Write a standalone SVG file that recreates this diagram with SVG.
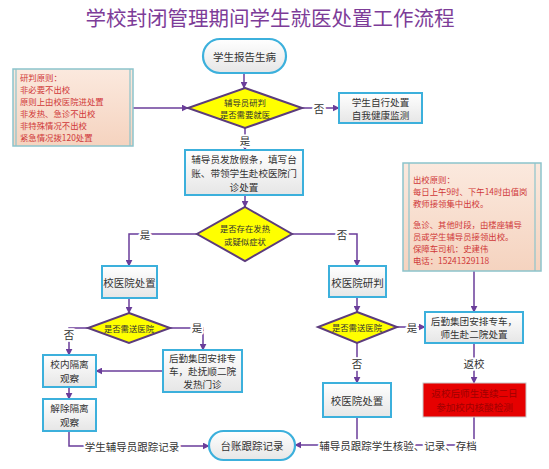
<svg xmlns="http://www.w3.org/2000/svg" width="549" height="469" viewBox="0 0 549 469">
<defs>
<linearGradient id="gBox" x1="0" y1="0" x2="0" y2="1"><stop offset="0" stop-color="#ffffff"/><stop offset="1" stop-color="#e6e6e6"/></linearGradient>
<linearGradient id="gNote" x1="0" y1="0" x2="0" y2="1"><stop offset="0" stop-color="#fbe9de"/><stop offset="1" stop-color="#f5d3bf"/></linearGradient>
<marker id="arr" viewBox="0 0 10 10" refX="9" refY="5" markerWidth="7" markerHeight="7" orient="auto" markerUnits="userSpaceOnUse"><path d="M0,0 L10,5 L0,10 z" fill="#6a3d9a"/></marker>
</defs>
<style>
text{font-family:"Noto Sans CJK SC","Liberation Sans",sans-serif;text-anchor:middle;dominant-baseline:central;fill:#333}
.box{fill:url(#gBox);stroke:#3cb0dc;stroke-width:2}
.term{fill:url(#gBox);stroke:#3cb0dc;stroke-width:2.2}
.dia{fill:#ffff00;stroke:#5c3c7c;stroke-width:2}
.note{fill:url(#gNote);stroke:#8cc4cc;stroke-width:1.5}
.nl{stroke:#8cc4cc;stroke-width:1.2}
.nt{fill:#d03838;font-size:8.4px;text-anchor:start}
.t{font-size:10.5px}
.m{font-size:9.6px}
.d{font-size:8.4px}
.red{fill:#e60000;stroke:#c8c8c8;stroke-width:1}
.rt{fill:#a00000;font-size:9.6px}
.c{fill:none;stroke:#6a3d9a;stroke-width:1.5}
.ca{fill:none;stroke:#6a3d9a;stroke-width:1.5;marker-end:url(#arr)}
.lb{font-size:10.5px;paint-order:stroke;stroke:#fff;stroke-width:4px;stroke-linejoin:round}
</style>
<rect width="549" height="469" fill="#ffffff"/>
<text x="270" y="17" style="font-size:20.5px;fill:#7d3c98">学校封闭管理期间学生就医处置工作流程</text>

<g id="connectors">
<path class="ca" d="M244,73 L244,88"/>
<path class="ca" d="M133,108 L188,108"/>
<path class="ca" d="M302,108 L339,108"/>
<path class="ca" d="M245,128 L245,150"/>
<path class="ca" d="M245,195 L245,207"/>
<path class="ca" d="M197,234 L129,234 L129,266"/>
<path class="ca" d="M292,234 L357,234 L357,266"/>
<path class="ca" d="M129,298 L129,313"/>
<path class="ca" d="M88,328 L69,328 L69,355"/>
<path class="ca" d="M170,328 L203,328 L203,350"/>
<path class="ca" d="M163,371 L96,371"/>
<path class="ca" d="M69,387 L69,399"/>
<path class="ca" d="M69,431 L69,446 L209,446"/>
<path class="ca" d="M357,297 L357,312"/>
<path class="ca" d="M397,327 L425,327"/>
<path class="ca" d="M357,343 L357,383"/>
<path class="ca" d="M474,271 L474,312"/>
<path class="ca" d="M474,343 L474,383"/>
<path class="c" d="M357,417 L357,445"/>
<path class="ca" d="M474,417 L474,445 L295,445"/>
<text class="lb" x="319" y="108">否</text>
<text class="lb" x="245" y="140">是</text>
<text class="lb" x="145" y="234">是</text>
<text class="lb" x="342" y="234">否</text>
<text class="lb" x="69" y="334">否</text>
<text class="lb" x="197" y="327">是</text>
<text class="lb" x="412" y="327">是</text>
<text class="lb" x="357" y="363">否</text>
<text class="lb" x="474" y="363">返校</text>
<text class="lb" x="132" y="446">学生辅导员跟踪记录</text>
<text class="lb" x="398" y="445">辅导员跟踪学生核验、记录、存档</text>
</g>

<g id="start">
<rect class="term" x="203" y="39" width="83" height="34" rx="17"/>
<text class="t" x="244.5" y="56">学生报告生病</text>
</g>

<g id="note-left">
<rect class="note" x="13" y="69" width="120" height="77"/>
<line class="nl" x1="16" y1="69" x2="16" y2="146"/>
<line class="nl" x1="130" y1="69" x2="130" y2="146"/>
<text class="nt" x="20" y="77">研判原则：</text>
<text class="nt" x="20" y="89">非必要不出校</text>
<text class="nt" x="20" y="101">原则上由校医院进处置</text>
<text class="nt" x="20" y="113">非发热、急诊不出校</text>
<text class="nt" x="20" y="125">非特殊情况不出校</text>
<text class="nt" x="20" y="137">紧急情况拨120处置</text>
</g>

<g id="decide1">
<polygon class="dia" points="245,88 302,108 245,128 188,108"/>
<text class="d" x="245" y="101.5">辅导员研判</text>
<text class="d" x="245" y="114">是否需要就医</text>
</g>

<g id="self">
<rect class="box" x="339" y="93" width="83" height="30"/>
<text class="m" x="380.5" y="101.5">学生自行处置</text>
<text class="m" x="380.5" y="115">自我健康监测</text>
</g>

<g id="counselor">
<rect class="box" x="185" y="150" width="118" height="45"/>
<text class="m" x="244" y="158.5">辅导员发放假条，填写台</text>
<text class="m" x="244" y="172.5">账、带领学生赴校医院门</text>
<text class="m" x="244" y="186.5">诊处置</text>
</g>

<g id="decide2">
<polygon class="dia" points="245,207 292,234 245,261 197,234"/>
<text class="d" x="245" y="227.5">是否存在发热</text>
<text class="d" x="245" y="240.5">或疑似症状</text>
</g>

<g id="clinic-left">
<rect class="box" x="102" y="266" width="55" height="32"/>
<text class="t" x="129.5" y="282">校医院处置</text>
</g>

<g id="clinic-judge">
<rect class="box" x="329" y="266" width="57" height="31"/>
<text class="t" x="357.5" y="282">校医院研判</text>
</g>

<g id="note-right">
<rect class="note" x="403" y="163" width="138" height="108"/>
<line class="nl" x1="409" y1="163" x2="409" y2="271"/>
<line class="nl" x1="535" y1="163" x2="535" y2="271"/>
<text class="nt" x="413" y="179">出校原则：</text>
<text class="nt" x="413" y="191">每日上午9时、下午14时由值岗</text>
<text class="nt" x="413" y="203">教师接领集中出校。</text>
<text class="nt" x="413" y="224">急诊、其他时段，由楼座辅导</text>
<text class="nt" x="413" y="236">员或学生辅导员接领出校。</text>
<text class="nt" x="413" y="248">保障车司机：史建伟</text>
<text class="nt" x="413" y="260">电话：15241329118</text>
</g>

<g id="decide4">
<polygon class="dia" points="129,313 170,328 129,343 88,328"/>
<text class="d" x="129" y="328">是否需送医院</text>
</g>

<g id="isolate">
<rect class="box" x="43" y="355" width="53" height="32"/>
<text class="m" x="69.5" y="364">校内隔离</text>
<text class="m" x="69.5" y="378">观察</text>
</g>

<g id="transfer-left">
<rect class="box" x="163" y="350" width="79" height="42"/>
<text class="m" x="202.5" y="358">后勤集团安排专</text>
<text class="m" x="202.5" y="371">车，赴抚顺二院</text>
<text class="m" x="202.5" y="384">发热门诊</text>
</g>

<g id="release">
<rect class="box" x="43" y="399" width="53" height="32"/>
<text class="m" x="69.5" y="408">解除隔离</text>
<text class="m" x="69.5" y="422">观察</text>
</g>

<g id="decide3">
<polygon class="dia" points="357,312 397,327 357,343 318,327"/>
<text class="d" x="357" y="327">是否需送医院</text>
</g>

<g id="transfer-right">
<rect class="box" x="425" y="312" width="98" height="31"/>
<text class="m" x="474" y="320.5">后勤集团安排专车，</text>
<text class="m" x="474" y="334">师生赴二院处置</text>
</g>

<g id="clinic-right">
<rect class="box" x="323" y="383" width="68" height="34"/>
<text class="t" x="357" y="400">校医院处置</text>
</g>

<g id="test">
<rect class="red" x="423" y="383" width="103" height="34"/>
<text class="rt" x="474.5" y="393">返校后师生连续二日</text>
<text class="rt" x="474.5" y="407">参加校内核酸检测</text>
</g>

<g id="ledger">
<rect class="term" x="209" y="431" width="86" height="29" rx="14.5"/>
<text class="t" x="252" y="445.5">台账跟踪记录</text>
</g>
</svg>
